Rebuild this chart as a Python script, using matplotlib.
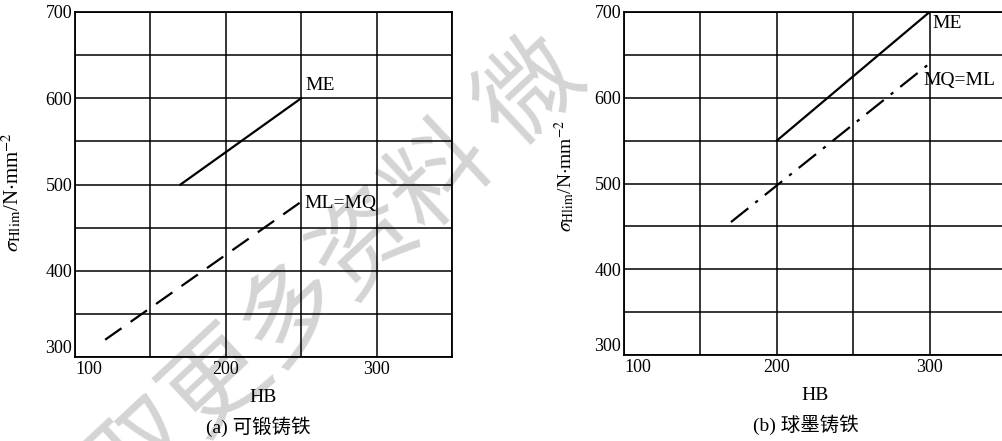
"""Contact fatigue limit vs hardness for malleable and nodular cast iron."""
import matplotlib
matplotlib.use("Agg")
import matplotlib.pyplot as plt
from matplotlib.ticker import MultipleLocator

plt.rcParams["font.family"] = ["Liberation Serif", "Noto Sans CJK SC"]
plt.rcParams["mathtext.fontset"] = "stix"

# (a) malleable cast iron
a_me_hb = [170, 250]
a_me_sig = [500, 600]
a_ml_hb = [120, 250]
a_ml_sig = [320, 480]

# (b) nodular cast iron
b_me_hb = [200, 300]
b_me_sig = [550, 700]
b_mq_hb = [170, 300]
b_mq_sig = [455, 640]

x_ticks = [100, 200, 300]
y_ticks = [300, 400, 500, 600, 700]
ylabel = r"$\sigma_{\rm Hlim}$/N$\cdot$mm$^{-2}$"

fig = plt.figure(figsize=(10.03, 4.41), dpi=100)

# watermark behind the charts
fig.text(0.337, 0.38, "取更多资料 微", fontsize=73, color="#d4d4d4",
         rotation=43, ha="center", va="center", family="Noto Sans CJK SC", zorder=0)

ax_a = fig.add_axes([75 / 1003, 1 - 357 / 441, 377 / 1003, 345 / 441], zorder=2)
ax_b = fig.add_axes([624 / 1003, 1 - 355 / 441, 382 / 1003, 343 / 441], zorder=2)

for ax in (ax_a, ax_b):
    ax.set_facecolor("none")
    ax.set_xlim(100, 350)
    ax.set_ylim(300, 700)
    ax.set_xticks(x_ticks)
    ax.set_yticks(y_ticks)
    ax.xaxis.set_minor_locator(MultipleLocator(50))
    ax.yaxis.set_minor_locator(MultipleLocator(50))
    ax.grid(True, which="both", color="black", lw=1.1)
    ax.tick_params(which="both", length=0, labelsize=13)
    ax.tick_params(axis="x", pad=3)
    ax.tick_params(axis="y", pad=2)
    for s in ax.spines.values():
        s.set_linewidth(1.3)
    ax.set_xlabel("HB", fontsize=14, labelpad=8)
    # corner labels kept apart like the original
    ax.get_yticklabels()[0].set_va("bottom")
    ax.get_xticklabels()[0].set_ha("left")

ax_a.plot(a_me_hb, a_me_sig, color="black", lw=1.6)
ax_a.plot(a_ml_hb, a_ml_sig, color="black", lw=1.6, dashes=(9, 5))
ax_a.text(a_me_hb[1] + 3, a_me_sig[1] + 5, "ME", fontsize=14, va="bottom")
ax_a.text(a_ml_hb[1] + 2, a_ml_sig[1] - 2, "ML=MQ", fontsize=14, va="center")
ax_a.set_ylabel(ylabel, fontsize=15)
ax_a.yaxis.set_label_coords(-0.135, 0.477)
fig.text(258 / 1003, 1 - 427 / 441, "(a) 可锻铸铁", fontsize=14, ha="center", va="center")

ax_b.plot(b_me_hb, b_me_sig, color="black", lw=1.6)
ax_b.plot(b_mq_hb, b_mq_sig, color="black", lw=1.6, dashes=(10, 4, 1.5, 4))
ax_b.text(b_me_hb[1] + 2, b_me_sig[1] - 3, "ME", fontsize=14, va="top")
ax_b.text(b_mq_hb[1] - 4, b_mq_sig[1] - 10, "MQ=ML", fontsize=14, va="top")
ax_b.set_ylabel(ylabel, fontsize=14)
ax_b.yaxis.set_label_coords(-0.123, 0.522)
ax_b.spines["right"].set_visible(False)
fig.text(806 / 1003, 1 - 425 / 441, "(b) 球墨铸铁", fontsize=14, ha="center", va="center")

fig.savefig("out.png", dpi=100)
